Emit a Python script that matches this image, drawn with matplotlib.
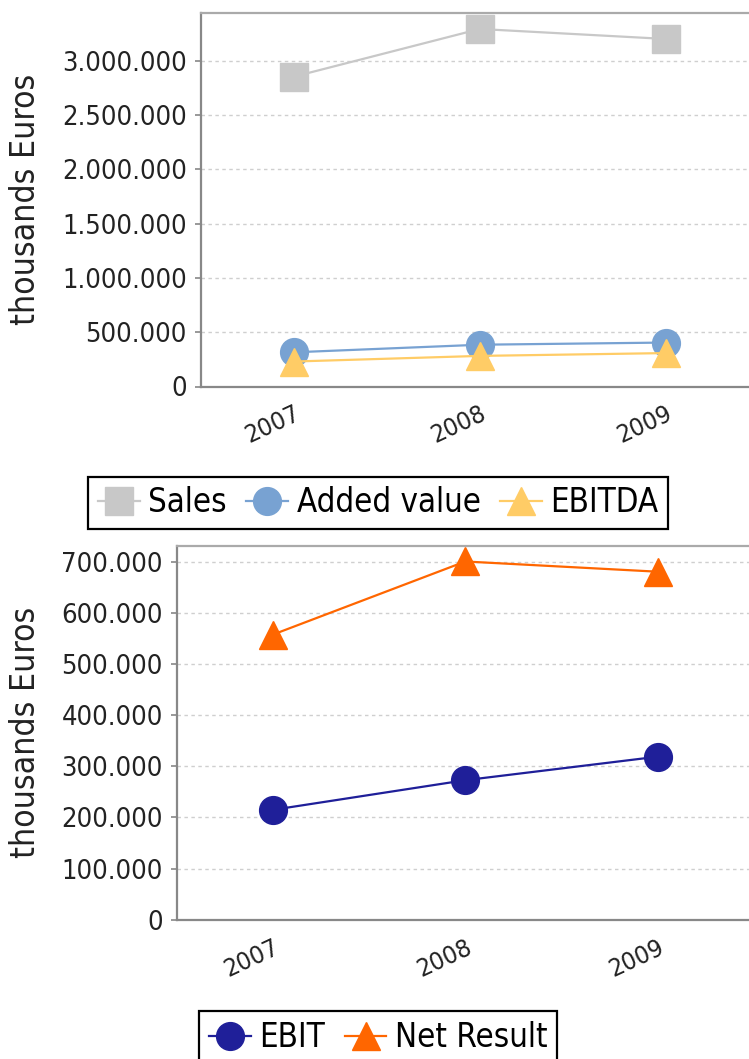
import matplotlib
matplotlib.use("Agg")
import matplotlib.pyplot as plt
import matplotlib.transforms as mtransforms
from matplotlib import font_manager
from matplotlib.ticker import FuncFormatter, MultipleLocator

# data
years = ["2007", "2008", "2009"]
sales = [2855000, 3295000, 3203000]
added_value = [315000, 385000, 405000]
ebitda = [230000, 282000, 308000]
ebit = [215000, 273000, 319000]
net_result = [558000, 701000, 681000]

W, H = 749, 1059
plt.rcParams["font.family"] = ["DejaVu Sans"]

# the reference font is narrow; use DejaVu Sans Condensed when it is there
cond_file = font_manager.findfont(
    font_manager.FontProperties(family="DejaVu Sans", stretch="condensed"))
if "Condensed" in cond_file:
    plt.rcParams["font.stretch"] = "condensed"
    scale = 1.1
else:
    scale = 1.0

fig = plt.figure(figsize=(W / 100, H / 100), dpi=100)


def px_axes(left, top, right, bottom):
    return fig.add_axes([left / W, 1 - bottom / H, (right - left) / W, (bottom - top) / H])


def thousands(v, _pos):
    return f"{int(round(v)):,}".replace(",", ".")


def style_axes(ax, ymax, step):
    ax.set_xlim(-0.5, 2.5)
    ax.set_ylim(0, ymax)
    ax.yaxis.set_major_locator(MultipleLocator(step))
    ax.yaxis.set_major_formatter(FuncFormatter(thousands))
    ax.set_xticks(range(len(years)))
    ax.set_xticklabels(years, rotation=25, ha="right", va="top",
                       rotation_mode="anchor", fontsize=16.5 * scale, color="#222222")
    ax.tick_params(axis="x", length=0, pad=11)
    ax.tick_params(axis="y", length=4, width=1.2, color="#888888", pad=6,
                   labelsize=17.8 * scale, labelcolor="#222222")
    ax.grid(axis="y", color="#cfcfcf", linestyle=(0, (2.5, 2.5)), linewidth=1.0)
    ax.set_axisbelow(True)
    ax.spines["right"].set_visible(False)
    ax.spines["top"].set_color("#aaaaaa")
    ax.spines["top"].set_linewidth(1.6)
    for s in ("left", "bottom"):
        ax.spines[s].set_color("#888888")
        ax.spines[s].set_linewidth(1.6)
    ax.set_ylabel("thousands Euros", fontsize=22 * scale, va="center", color="#222222")
    ax.yaxis.set_label_coords(
        26 / W, 0.5, transform=mtransforms.blended_transform_factory(fig.transFigure, ax.transAxes))


def add_legend(ax, y_center, ncol):
    leg = ax.legend(loc="center", bbox_to_anchor=(0.505, y_center), bbox_transform=fig.transFigure,
                    ncol=ncol, fontsize=21.5 * scale, frameon=True, fancybox=False, framealpha=1,
                    edgecolor="black", handlelength=1.4 / scale, handletextpad=0.25,
                    columnspacing=0.6, borderpad=0.3, borderaxespad=0)
    leg.get_frame().set_linewidth(1.6)
    return leg


x = list(range(len(years)))

# top chart
ax1 = px_axes(200.7, 12.7, 758.7, 386.5)
series_top = [
    ("Sales", sales, "s", "#c8c8c8"),
    ("Added value", added_value, "o", "#78a2d2"),
    ("EBITDA", ebitda, "^", "#ffcc66"),
]
for label, vals, mk, col in series_top:
    ax1.plot(x, vals, marker=mk, color=col, mec=col, ms=20, lw=1.6, label=label)
style_axes(ax1, 3445000, 500000)
add_legend(ax1, 1 - 503 / H, 3)

# bottom chart
ax2 = px_axes(176.8, 545.8, 753.8, 919.7)
series_bottom = [
    ("EBIT", ebit, "o", "#1f1f99"),
    ("Net Result", net_result, "^", "#ff6600"),
]
for label, vals, mk, col in series_bottom:
    ax2.plot(x, vals, marker=mk, color=col, mec=col, ms=20, lw=1.6, label=label)
style_axes(ax2, 731700, 100000)
add_legend(ax2, 1 - 1037.5 / H, 2)

fig.savefig("out.png", dpi=100)
